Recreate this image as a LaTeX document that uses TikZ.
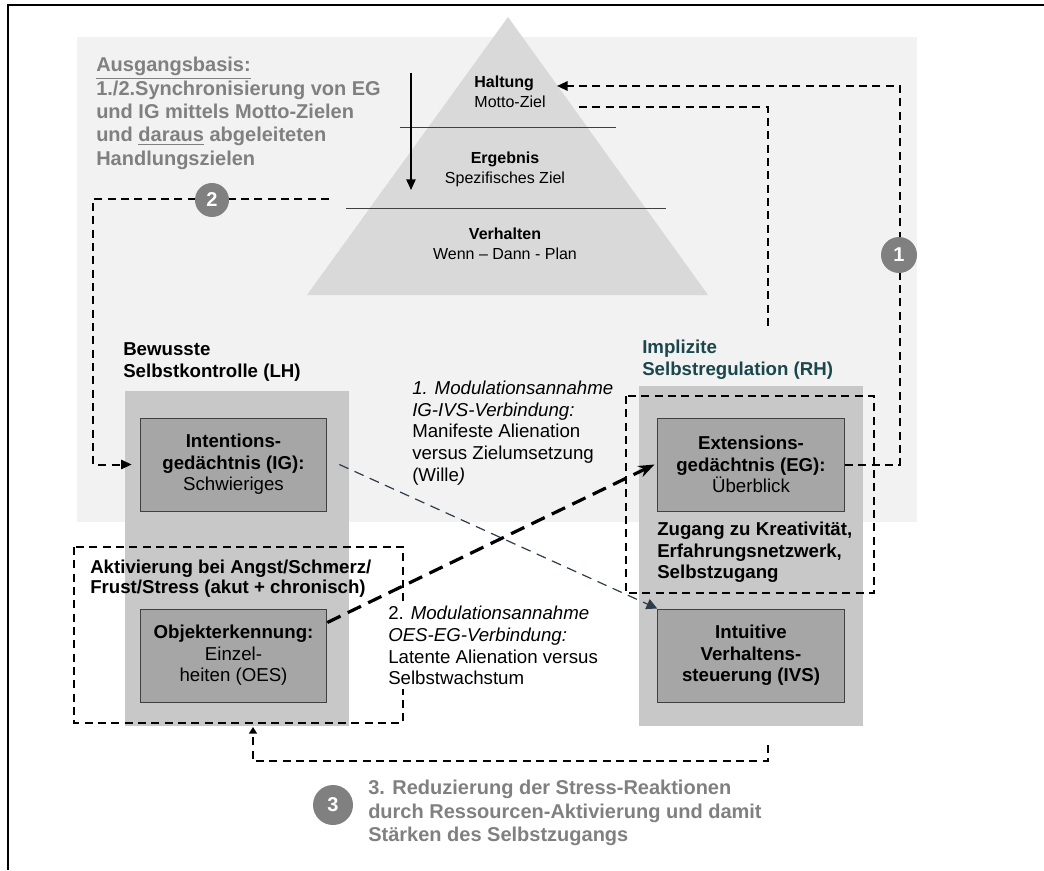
\documentclass[tikz,border=0pt]{standalone}
\usepackage{fontspec}
\setmainfont{Liberation Sans}
\usetikzlibrary{arrows.meta, calc}

\definecolor{panel}{HTML}{F2F2F2}
\definecolor{pyr}{HTML}{D9D9D9}
\definecolor{saeule}{HTML}{C8C8C8}
\definecolor{kastenfill}{HTML}{A6A6A6}
\definecolor{grau}{HTML}{808080}
\definecolor{petrol}{HTML}{1A474C}
\definecolor{schiefer}{HTML}{2E3B4B}

\tikzset{
  kasten/.style={draw=black!75, line width=0.75pt, fill=kastenfill, minimum width=140pt, minimum height=69.75pt, align=center, font={\fontsize{14}{16.2}\selectfont}},
  schritt/.style={circle, fill=grau, text=white, inner sep=0pt, font={\fontsize{15}{15}\selectfont\bfseries}},
  strich/.style={line width=1.5pt, dash pattern=on 6pt off 4pt},
  txt/.style={anchor=north west, inner sep=0pt, align=left, font={\fontsize{14}{16.2}\selectfont}},
  pyrtxt/.style={font={\fontsize{12}{15}\selectfont}},
}

\begin{document}
\begin{tikzpicture}[x=0.75pt, y=-0.75pt]
        \useasboundingbox (0,0) rectangle (1044,870);
        \draw[line width=1.5pt] (8,870) -- (8,4.7) -- (1044,4.7);
        
        \fill[panel] (77,37) rectangle (917,522);
        \fill[pyr] (508,17) -- (307,295) -- (708,295) -- cycle;
        \draw[black!75, line width=0.75pt] (400,128) -- (616,128);
        \draw[black!75, line width=0.75pt] (346,208) -- (666,208);
        \draw[line width=1.2pt, -{Triangle[length=8pt,width=7pt]}] (411,73) -- (411,190);
        
        \node[pyrtxt, align=left] (haltung) at (510,92) {\textbf{Haltung}\\Motto-Ziel};
        \node[pyrtxt, align=center] (ergebnis) at (505,169) {\textbf{Ergebnis}\\Spezifisches Ziel};
        \node[pyrtxt, align=center] (verhalten) at (505,244) {\textbf{Verhalten}\\Wenn -- Dann - Plan};
        
        \node[txt, font={\fontsize{15}{17.5}\selectfont\bfseries}, text=grau] (basis) at (96,57)
            {\underline{Ausgangsbasis:}\\1./2.Synchronisierung von EG\\und IG mittels Motto-Zielen\\und \underline{daraus} abgeleiteten\\Handlungszielen};
        
        \fill[saeule] (125,391) rectangle (349,726);
        \fill[saeule] (639,386) rectangle (863,726);
        
        \node[txt, font={\fontsize{14}{17}\selectfont\bfseries}] (LH) at (123,342) {Bewusste\\Selbstkontrolle (LH)};
        \node[txt, font={\fontsize{14}{16.2}\selectfont\bfseries}, text=petrol] (RH) at (642,340) {Implizite\\Selbstregulation (RH)};
        
        \node[kasten] (IG) at (233.5,464.5) {\textbf{Intentions-}\\\textbf{gedächtnis (IG):}\\Schwieriges};
        \node[kasten] (OES) at (233.5,655.5) {\textbf{Objekterkennung:}\\Einzel-\\heiten (OES)};
        \node[kasten] (EG) at (751,464.5) {\textbf{Extensions-}\\\textbf{gedächtnis (EG):}\\Überblick};
        \node[kasten] (IVS) at (751,655.5) {\textbf{Intuitive}\\\textbf{Verhaltens-}\\\textbf{steuerung (IVS)}};
        
        \draw[strich] (74,547) rectangle (403,723);
        \draw[strich] (626,396) rectangle (874,593);
        
        \node[txt, font={\fontsize{14}{15}\selectfont\bfseries}] (stress) at (90,560) {Aktivierung bei Angst/Schmerz/\\Frust/Stress (akut + chronisch)};
        \node[txt, font={\fontsize{14}{16}\selectfont\bfseries}] (zugang) at (657,522) {Zugang zu Kreativität,\\Erfahrungsnetzwerk,\\Selbstzugang};
        \node[txt] (mod1) at (412,381) {\textit{1. Modulationsannahme}\\\textit{IG-IVS-Verbindung:}\\Manifeste Alienation\\versus Zielumsetzung\\(Wille\textit{)}};
        \node[txt, fill=white, inner sep=3pt] (mod2) at (384,602) {2. \textit{Modulationsannahme}\\\textit{OES-EG-Verbindung:}\\Latente Alienation versus\\Selbstwachstum};
        
        \coordinate (eck1) at (900,86);
        \coordinate (ziel1) at (557,86);
        \draw[strich, -{Triangle[length=8pt,width=7pt]}] (EG.east) -- (EG.east -| eck1) -- (eck1) -- (ziel1);
        
        \coordinate (motto) at (579,107);
        \coordinate (eck2) at (768,107);
        \coordinate (ende2) at (768,327);
        \draw[strich] (motto) -- (eck2) -- (ende2);
        
        \coordinate (start2) at (329,199);
        \coordinate (eck3) at (93,199);
        \draw[strich, -{Triangle[length=8pt,width=7pt]}] (start2) -- (eck3) |- ([xshift=-6pt]IG.west);
        
        \coordinate (start3) at (768,745);
        \coordinate (eck4) at (768,761);
        \coordinate (ziel3) at (253,727);
        \draw[strich, -{Triangle[length=5pt,width=6pt]}] (start3) -- (eck4) -| (ziel3);
        
        \draw[schiefer, line width=0.9pt, dash pattern=on 7.5pt off 5pt, -{Triangle[length=8pt,width=8pt]}] ([xshift=9pt]IG.east) -- (IVS.north west);
        \draw[line width=2.4pt, dash pattern=on 11pt off 6pt, -{Stealth[length=12pt,width=9pt]}] ([yshift=-10.5pt]OES.north east) -- ([xshift=-2pt]EG.west);
        
        \node[schritt, minimum size=27pt] (eins) at (899,255) {1};
        \node[schritt, minimum size=25.5pt] (zwei) at (212,200) {2};
        \node[schritt, minimum size=30pt] (drei) at (333,805) {3};
        
        \node[txt, font={\fontsize{15}{17.5}\selectfont\bfseries}, text=grau] (reduz) at (368,780)
            {3. Reduzierung der Stress-Reaktionen\\durch Ressourcen-Aktivierung und damit\\Stärken des Selbstzugangs};
\end{tikzpicture}
\end{document}
